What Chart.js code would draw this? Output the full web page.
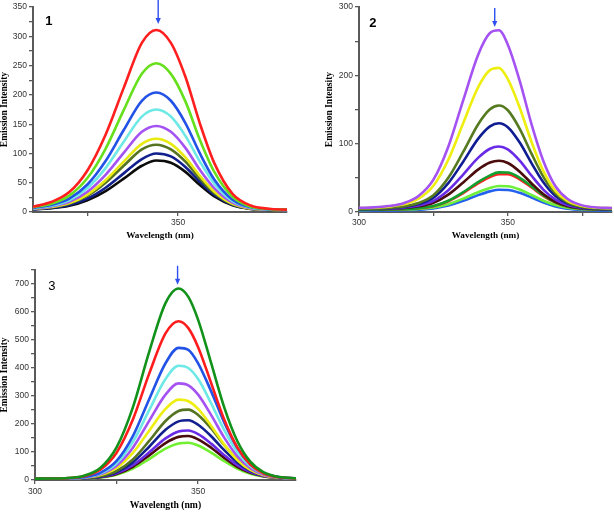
<!DOCTYPE html>
<html>
<head>
<meta charset="utf-8">
<script src="https://cdn.jsdelivr.net/npm/chart.js@4.4.1/dist/chart.umd.min.js"></script>
<style>
  body { margin: 0; background: #fff; }
  #wrap { position: relative; width: 614px; height: 512px; }
  canvas { position: absolute; }
</style>
</head>
<body>
<div id="wrap">
  <canvas id="c1" width="300" height="240" style="left:0;top:0"></canvas>
  <canvas id="c2" width="304" height="240" style="left:310px;top:0"></canvas>
  <canvas id="c3" width="300" height="252" style="left:0;top:260px"></canvas>
</div>
<script>
// ---- panel 1 : wavelength (nm) and emission intensity
const wl1 = [310, 315, 320, 325, 330, 335, 340, 344, 348, 352, 356, 360, 365, 370, 375, 380];
const p1Red    = [9, 17, 34, 71, 132, 212, 289, 311, 289, 231, 151, 83, 31, 11, 5.5, 4];
const p1Green  = [8, 14, 28, 58, 108, 174, 236, 254, 236, 189, 123, 68, 26, 9, 5, 4];
const p1Blue   = [7, 12, 23, 47, 87, 140, 190, 204, 190, 152, 100, 55, 21, 8, 4.6, 3.6];
const p1Cyan   = [6.4, 10.7, 20, 41, 75, 120, 163, 175, 163, 130, 86, 48, 18.5, 7.3, 4.4, 3.5];
const p1Purple = [5.9, 9.5, 17.4, 34.7, 63.5, 101, 137, 147, 137, 109.6, 72, 40.4, 16, 6.6, 4.2, 3.4];
const p1Yellow = [5.4, 8.5, 15.2, 29.8, 54.2, 86, 116.5, 125, 116.5, 93.3, 61.6, 34.7, 14, 6, 4, 3.4];
const p1Olive  = [5.2, 8, 14.2, 27.6, 50, 79, 107, 115, 107, 86, 56.8, 32, 13, 5.8, 3.9, 3.3];
const p1Navy   = [4.7, 7, 12, 23, 41.5, 66, 90.5, 100, 95, 77, 51.5, 29.5, 12.2, 5.5, 3.8, 3.3];
const p1Black  = [4.5, 6.3, 10.5, 19.8, 35.5, 57, 79, 88, 84, 68.5, 46, 26.5, 11.3, 5.3, 3.7, 3.3];

// ---- panel 2
const wl2 = [300, 305, 310, 315, 320, 325, 330, 335, 340, 344, 347, 350, 354, 358, 362, 366, 370, 375, 380, 385];
const p2Purple = [6, 6.8, 8.7, 12.8, 23.3, 47.3, 95.6, 163.4, 230, 262, 266, 245, 192, 128, 74, 37.6, 19.4, 9.7, 6.6, 5.8];
const p2Yellow = [5.8, 6.4, 7.9, 11.2, 19.4, 38.4, 76.5, 130, 182.6, 207.7, 211, 194.5, 152.7, 102.2, 59.4, 30.8, 16.3, 8.7, 6.2, 5.6];
const p2Olive  = [4.6, 4.9, 5.8, 8, 13.1, 24.5, 50, 87.9, 128.2, 150.4, 156, 149, 121.8, 85, 51.1, 27.3, 14.3, 7.3, 5.1, 4.5];
const p2Navy   = [4.5, 4.8, 5.5, 7.3, 11.6, 21, 42.2, 73.6, 107, 125.3, 130, 124.2, 101.7, 71.2, 43.1, 23.3, 12.6, 6.8, 4.9, 4.4];
const p2Violet = [4.4, 4.6, 5.1, 6.4, 9.5, 16.4, 31.9, 54.8, 79.2, 92.6, 96, 91.8, 75.3, 53, 32.5, 18.1, 10.3, 6, 4.6, 4.3];
const p2Maroon = [4.3, 4.4, 4.9, 5.8, 8.3, 13.6, 25.5, 43.2, 62, 72.4, 75, 71.7, 59, 41.8, 26, 14.9, 8.8, 5.6, 4.5, 4.2];
const p2Green  = [3.2, 3.3, 3.6, 4.2, 5.6, 8.8, 16.4, 28.9, 43.8, 53.6, 58, 57.8, 50, 37.4, 24.3, 14.2, 8.2, 4.8, 3.6, 3.2];
const p2Red    = [3.2, 3.3, 3.5, 4.1, 5.5, 8.5, 15.8, 27.7, 42, 51.3, 55.5, 55.3, 47.8, 35.8, 23.3, 13.7, 8, 4.7, 3.6, 3.2];
const p2Lime   = [3.1, 3.2, 3.4, 3.7, 4.6, 6.7, 11.5, 19.5, 29, 35.2, 38, 37.8, 32.9, 24.9, 16.5, 10.1, 6.3, 4.1, 3.4, 3.1];
const p2Blue   = [2.1, 2.2, 2.3, 2.6, 3.4, 5.2, 9.4, 16.4, 24.7, 30.2, 32.6, 32.3, 28.1, 21.1, 13.8, 8.2, 4.9, 3, 2.3, 2.1];

// ---- panel 3
const wl3 = [300, 305, 310, 315, 320, 325, 330, 335, 340, 344, 347, 350, 354, 358, 362, 366, 370, 375, 380];
const p3Green  = [5, 5.3, 7, 15.2, 43, 116.4, 259.6, 457.9, 631.7, 684, 654.1, 572, 417.2, 259.6, 139.4, 65.4, 28.1, 10.4, 6];
const p3Red    = [5, 5.3, 6.7, 13.4, 36.5, 97.2, 215.8, 379.9, 523.7, 567, 542.3, 474.3, 346.1, 215.8, 116.3, 55, 24.1, 9.5, 5.8];
const p3Blue   = [5, 5, 5.9, 10.1, 25.5, 68, 156.8, 288.5, 416.9, 472, 465, 416.9, 316.5, 205.8, 115.2, 56.4, 25.5, 10.1, 5.9];
const p3Cyan   = [5, 5, 5.8, 9.4, 22.7, 59.4, 136, 249.6, 360.4, 408, 400, 360.4, 273.8, 178.3, 100.1, 49.3, 22.7, 9.4, 5.8];
const p3Purple = [5, 5, 5.7, 8.7, 20, 50.9, 115.5, 211.4, 304.9, 345, 338.2, 304.9, 231.8, 151.2, 85.2, 42.4, 20, 8.7, 5.7];
const p3Yellow = [5, 5, 5.6, 8.1, 17.4, 43.1, 96.7, 176.2, 253.7, 287, 281.4, 253.7, 193.1, 126.3, 71.6, 36, 17.4, 8.1, 5.6];
const p3Olive  = [5, 5, 5.4, 7, 13.4, 32.1, 73.5, 139.6, 210.8, 246.6, 251.5, 232.5, 184, 125, 73.5, 38.3, 18.8, 8.7, 5.7];
const p3Navy   = [5, 5, 5.3, 6.7, 12.1, 27.9, 63, 118.8, 179.1, 209.3, 213.5, 197.4, 156.4, 106.5, 63, 33.1, 16.7, 8.1, 5.6];
const p3Violet = [5, 5, 5.3, 6.4, 10.8, 23.9, 52.8, 98.9, 148.6, 173.6, 177, 163.8, 129.9, 88.8, 52.8, 28.2, 14.6, 7.6, 5.5];
const p3Maroon = [5, 5, 5.2, 6.2, 10.2, 21.7, 47.3, 88, 131.9, 154, 157, 145.3, 115.4, 79, 47.3, 25.5, 13.5, 7.3, 5.5];
const p3Lime   = [5, 5, 5.2, 6, 9.4, 19.1, 40.6, 74.9, 111.9, 130.4, 133, 123.1, 97.9, 67.3, 40.6, 22.3, 12.2, 6.9, 5.4];

const TICK_FONT = { family: 'Liberation Sans, Arial, sans-serif', size: 8.5 };
const TITLE_FAMILY = 'Liberation Serif, Times New Roman, serif';
const AXIS_COLOR = '#5a5a5a';

// panel number + blue arrow over the peak
const panelMarks = {
  id: 'panelMarks',
  afterDatasetsDraw(chart, args, o) {
    const { ctx, scales: { x, y } } = chart;
    ctx.save();
    ctx.font = o.tagFont;
    ctx.fillStyle = '#000';
    ctx.textAlign = 'center';
    ctx.textBaseline = 'middle';
    ctx.fillText(o.tag, x.getPixelForValue(o.tagAt[0]), y.getPixelForValue(o.tagAt[1]));

    const ax = x.getPixelForValue(o.arrowX);
    const y0 = y.getPixelForValue(o.arrowFrom);
    const y1 = y.getPixelForValue(o.arrowTo);
    ctx.strokeStyle = ctx.fillStyle = '#2d4ff0';
    ctx.lineWidth = 1.4;
    ctx.beginPath();
    ctx.moveTo(ax, y0);
    ctx.lineTo(ax, y1 - 4);
    ctx.stroke();
    ctx.beginPath();
    ctx.moveTo(ax - 2.6, y1 - 6);
    ctx.lineTo(ax + 2.6, y1 - 6);
    ctx.lineTo(ax, y1);
    ctx.closePath();
    ctx.fill();
    ctx.restore();
  }
};
Chart.register(panelMarks);

function series(wl, vals, color) {
  return {
    data: wl.map((w, i) => ({ x: w, y: vals[i] })),
    borderColor: color,
    borderWidth: 2.6,
    pointRadius: 0,
    fill: false,
    tension: 0.4,
    cubicInterpolationMode: 'monotone'
  };
}

function makeChart(id, c) {
  new Chart(document.getElementById(id), {
    type: 'line',
    data: { datasets: c.datasets },
    plugins: [],
    options: {
      responsive: false,
      animation: false,
      devicePixelRatio: 1,
      layout: { padding: { left: 0, right: c.padRight, top: c.padTop, bottom: 0 } },
      plugins: {
        legend: { display: false },
        tooltip: { enabled: false },
        panelMarks: c.marks
      },
      scales: {
        x: {
          type: 'linear',
          min: c.xMin,
          max: c.xMax,
          afterFit: s => { s.height = c.xHeight; },
          afterBuildTicks: s => { s.ticks = s.ticks.filter(t => t.value % 25 === 0); },
          ticks: {
            stepSize: 25,
            autoSkip: false,
            maxRotation: 0,
            padding: c.xTickPad,
            color: '#333',
            font: TICK_FONT,
            callback: v => (v % 50 === 0 ? String(v) : '')
          },
          grid: { drawOnChartArea: false, drawTicks: true, tickLength: 4, color: AXIS_COLOR, lineWidth: 1.3 },
          border: { display: true, color: AXIS_COLOR, width: 2 },
          title: {
            display: true,
            text: 'Wavelength (nm)',
            color: '#000',
            padding: { top: 0, bottom: c.xTitlePad },
            font: { family: TITLE_FAMILY, size: c.xTitleSize, weight: 'bold', lineHeight: 1 }
          }
        },
        y: {
          min: 0,
          max: c.yMax,
          afterFit: s => { s.width = c.yWidth; },
          ticks: {
            stepSize: c.yStep,
            autoSkip: false,
            padding: 2,
            color: '#333',
            font: TICK_FONT,
            callback: v => (v % c.yLabelStep === 0 ? String(v) : '')
          },
          grid: { drawOnChartArea: false, drawTicks: true, tickLength: 4, color: AXIS_COLOR, lineWidth: 1.3 },
          border: { display: true, color: AXIS_COLOR, width: 2 },
          title: {
            display: true,
            text: 'Emission Intensity',
            color: '#000',
            padding: { top: c.yTitlePad, bottom: 0 },
            font: { family: TITLE_FAMILY, size: 9.5, weight: 'bold', lineHeight: 1 }
          }
        }
      }
    }
  });
}

makeChart('c1', {
  datasets: [
    series(wl1, p1Red, '#ff1f1f'),
    series(wl1, p1Green, '#66e01c'),
    series(wl1, p1Blue, '#2352e6'),
    series(wl1, p1Cyan, '#6ee9e6'),
    series(wl1, p1Purple, '#a552f2'),
    series(wl1, p1Yellow, '#e9ea12'),
    series(wl1, p1Olive, '#557321'),
    series(wl1, p1Navy, '#12208e'),
    series(wl1, p1Black, '#0c0c0c')
  ],
  xMin: 310, xMax: 380, yMax: 350, yStep: 25, yLabelStep: 50,
  padRight: 13, padTop: 7, xHeight: 28, yWidth: 33,
  xTickPad: 2, xTitlePad: 0, xTitleSize: 9.2, yTitlePad: 0,
  marks: { tag: '1', tagFont: 'bold 13px Liberation Sans, Arial, sans-serif', tagAt: [314.4, 326],
           arrowX: 344.5, arrowFrom: 362, arrowTo: 321 }
});

makeChart('c2', {
  datasets: [
    series(wl2, p2Purple, '#a552f2'),
    series(wl2, p2Yellow, '#eeee10'),
    series(wl2, p2Olive, '#557a1f'),
    series(wl2, p2Navy, '#101c92'),
    series(wl2, p2Violet, '#6a2be6'),
    series(wl2, p2Maroon, '#4a0c0c'),
    series(wl2, p2Green, '#12a02e'),
    series(wl2, p2Red, '#ff2222'),
    series(wl2, p2Lime, '#6ef03a'),
    series(wl2, p2Blue, '#2462ee')
  ],
  xMin: 300, xMax: 385, yMax: 300, yStep: 50, yLabelStep: 100,
  padRight: 2, padTop: 7, xHeight: 28, yWidth: 49,
  xTickPad: 2, xTitlePad: 0, xTitleSize: 9.2, yTitlePad: 14.5,
  marks: { tag: '2', tagFont: 'bold 13px Liberation Sans, Arial, sans-serif', tagAt: [304.7, 276.7],
           arrowX: 345.6, arrowFrom: 298.7, arrowTo: 271 }
});

makeChart('c3', {
  datasets: [
    series(wl3, p3Green, '#12921a'),
    series(wl3, p3Red, '#ff1c1c'),
    series(wl3, p3Blue, '#2352e6'),
    series(wl3, p3Cyan, '#6ee9e6'),
    series(wl3, p3Purple, '#a552f2'),
    series(wl3, p3Yellow, '#eeee10'),
    series(wl3, p3Olive, '#557321'),
    series(wl3, p3Navy, '#12208e'),
    series(wl3, p3Violet, '#6a2be6'),
    series(wl3, p3Maroon, '#4a0c0c'),
    series(wl3, p3Lime, '#70f02e')
  ],
  xMin: 300, xMax: 380, yMax: 750, yStep: 50, yLabelStep: 100,
  padRight: 4, padTop: 10, xHeight: 32, yWidth: 35,
  xTickPad: 3, xTitlePad: 2, xTitleSize: 9.7, yTitlePad: 0,
  marks: { tag: '3', tagFont: '13px Liberation Sans, Arial, sans-serif', tagAt: [305.2, 690],
           arrowX: 343.7, arrowFrom: 765, arrowTo: 697 }
});
</script>
</body>
</html>
